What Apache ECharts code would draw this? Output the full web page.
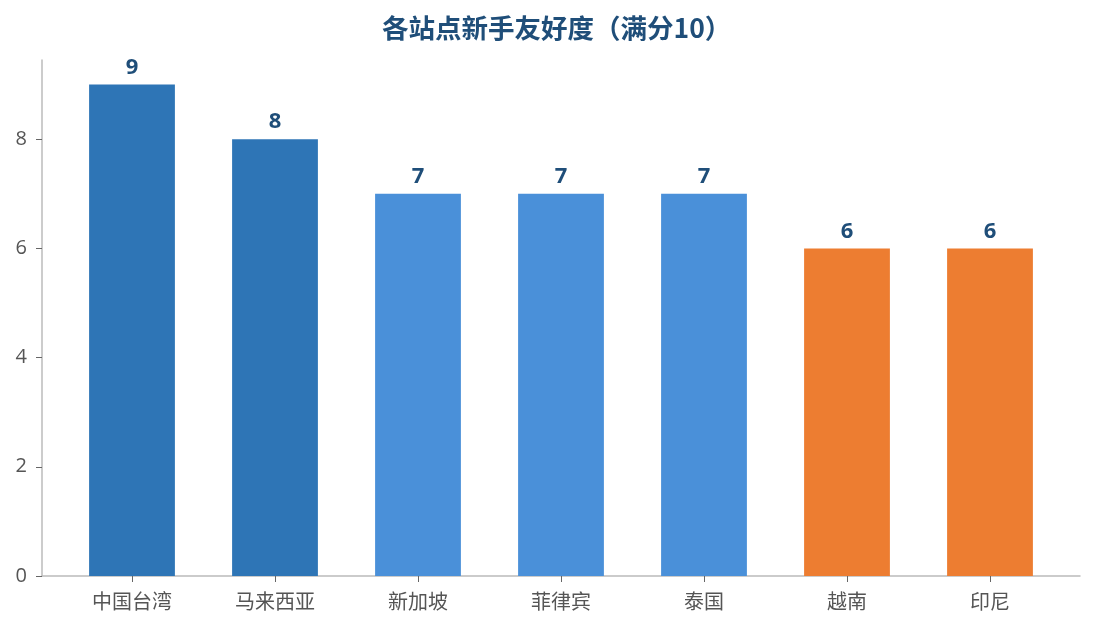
<!DOCTYPE html>
<html style="height: 100%">
<head>
    <meta charset="utf-8">
</head>
<body style="height: 100%; margin: 0">
<div id="bar" style="height: 100%"></div>
<script src="https://cdn.jsdelivr.net/npm/echarts@6/dist/echarts.min.js"></script>
<script type="text/javascript">
    // 数据
    var sites = ['中国台湾', '马来西亚', '新加坡', '菲律宾', '泰国', '越南', '印尼'];
    var scores = [9, 8, 7, 7, 7, 6, 6];
    var yTicks = [0, 2, 4, 6, 8];
    var barColors = ['#2e75b6', '#2e75b6', '#4a90d9', '#4a90d9', '#4a90d9', '#ed7d31', '#ed7d31'];

    var myBar = echarts.init(document.getElementById('bar'));
    var font = '"Open Sans", "Noto Sans CJK SC", sans-serif';

    var option = {
        backgroundColor: '#fff',
        animation: false,
        title: {
            text: '各站点新手友好度（满分10）',
            left: 377,
            top: 10,
            textStyle: {
                fontFamily: '"Noto Sans CJK SC", sans-serif',
                fontSize: 26.5,
                fontWeight: 'bold',
                color: '#1f4e79'
            }
        },
        // 第一个网格放柱子，第二个只画外框的两条轴线
        grid: [
            {left: 60.5, right: 33.5, top: 60, bottom: 53},
            {left: 42, right: 15, top: 60, bottom: 53}
        ],
        xAxis: [{
            type: 'category',
            gridIndex: 0,
            data: sites,
            axisLine: {show: false},
            axisTick: {show: true, alignWithLabel: true, length: 6, lineStyle: {color: '#666'}},
            axisLabel: {
                fontFamily: font,
                fontSize: 20,
                color: '#555',
                margin: 17
            }
        }, {
            type: 'value',
            gridIndex: 1,
            min: 0,
            max: 1,
            axisLine: {show: true, lineStyle: {color: '#bbb', width: 1.5}},
            axisTick: {show: false},
            axisLabel: {show: false},
            splitLine: {show: false}
        }],
        yAxis: [{
            type: 'value',
            gridIndex: 0,
            min: 0,
            max: 9.45,
            offset: 18.5,
            splitLine: {show: false},
            axisLine: {show: true, lineStyle: {color: '#bbb', width: 1.5}},
            axisTick: {show: true, length: 6, customValues: yTicks, lineStyle: {color: '#666'}},
            axisLabel: {
                fontFamily: font,
                fontSize: 20,
                color: '#555',
                margin: 15,
                customValues: yTicks
            }
        }, {
            type: 'value',
            gridIndex: 1,
            min: 0,
            max: 1,
            axisLine: {show: false},
            axisTick: {show: false},
            axisLabel: {show: false},
            splitLine: {show: false}
        }],
        series: [{
            type: 'bar',
            xAxisIndex: 0,
            yAxisIndex: 0,
            barWidth: '60%',
            data: scores.map(function (v, i) {
                return {value: v, itemStyle: {color: barColors[i]}};
            }),
            label: {
                show: true,
                position: 'top',
                distance: 6,
                fontFamily: font,
                fontSize: 22,
                fontWeight: 'bold',
                color: '#1f4e79'
            }
        }]
    };
    myBar.setOption(option);
    window.addEventListener('resize', function () {
        myBar.resize();
    });
</script>
</body>
</html>
